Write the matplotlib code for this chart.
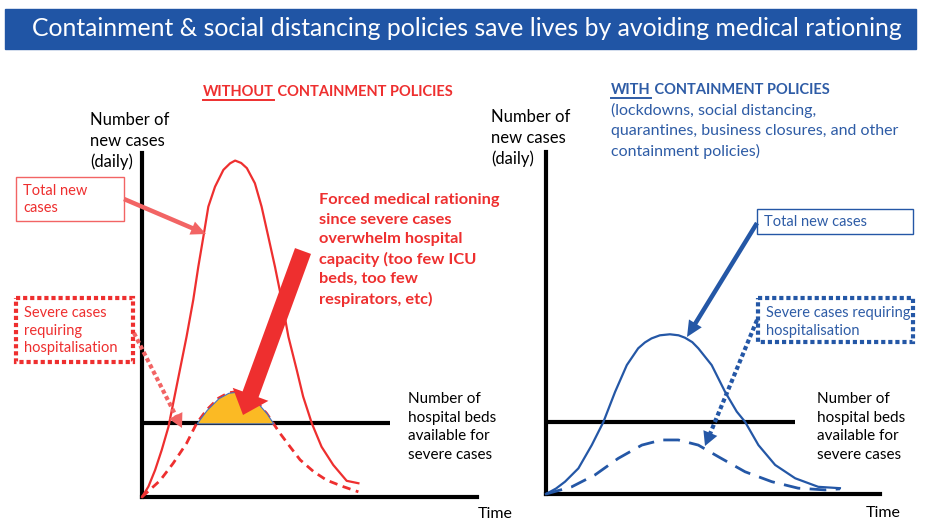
import matplotlib
matplotlib.use('Agg')
import matplotlib.pyplot as plt
from matplotlib.patches import Rectangle, FancyArrow
import numpy as np

plt.rcParams['font.family'] = ['Lato', 'DejaVu Sans']

# --- data (time / daily cases in arbitrary units, axis length = 100) ---
t_left_total = [0, 1.9, 3.9, 5.9, 7.9, 9.3, 11.3, 13.3, 15.3, 16.8, 18.5, 19.8, 21.8, 24.3,
                26.3, 27.8, 29.6, 31.3, 33.7, 35.7, 37.7, 39.7, 41.7, 43.7, 46.2, 48.1,
                50.7, 53.6, 57.1, 61.1, 64.6]
v_left_total = [0, 3.0, 7.8, 13.7, 20.4, 27.2, 36.9, 46.6, 57.3, 66.9, 76.7, 84.4, 90.2, 95.1,
                97.0, 97.8, 97.1, 95.6, 91.2, 84.4, 75.7, 66.9, 57.3, 46.6, 36.9, 29.2,
                21.4, 14.6, 9.3, 4.7, 4.0]
t_left_severe = [0, 5.4, 9.3, 13.3, 16.3, 19.3, 22.8, 25.8, 28.3, 31.3, 34.2, 37.2, 39.2,
                 41.2, 44.2, 47.2, 51.2, 55.1, 60.1, 64.6]
v_left_severe = [0, 4.8, 9.8, 15.6, 21.4, 25.3, 28.7, 30.3, 30.6, 29.9, 27.7, 24.3, 21.4,
                 18.5, 14.6, 10.8, 7.4, 4.9, 3.0, 1.5]
beds_left = 21.4
beds_left_end = 74.0

t_right_total = [0, 3.0, 5.7, 9.7, 13.7, 17.2, 20.7, 24.2, 27.6, 29.6, 31.6, 34.1, 37.1, 39.7,
                 41.6, 43.8, 45.6, 49.6, 53.6, 57.1, 59.6, 63.6, 68.6, 74.6, 81.5, 88.0]
v_right_total = [0, 1.6, 3.6, 7.5, 14.3, 21.1, 29.9, 37.7, 42.6, 44.3, 45.5, 46.4, 46.7, 46.4,
                 45.7, 44.4, 42.6, 37.7, 29.9, 24.1, 21.1, 14.3, 8.5, 4.6, 2.1, 1.7]
t_right_severe = [0, 7.7, 14.7, 21.6, 28.7, 34.6, 39.6, 45.6, 51.6, 59.6, 67.6, 75.5, 83.5, 88.0]
v_right_severe = [0, 2.1, 5.6, 10.4, 14.3, 15.8, 15.8, 14.3, 10.9, 6.5, 3.6, 1.7, 1.2, 1.5]
beds_right = 21.1
beds_right_end = 74.6

RED = '#EE2F2F'
RED_LIGHT = '#F26464'
BLUE = '#2457A6'
BLUE_TXT = '#2E5CA6'
BANNER = '#2055A5'
ORANGE = '#FBBA24'

fig = plt.figure(figsize=(9.28, 5.21), dpi=100)
W, H = 928, 521


def panel(x0, y0, x1, y1, t_tot, v_tot, t_sev, v_sev, beds, beds_end, color, dash):
    # x0,y0 = origin in pixels, x1 = end of time axis, y1 = top of case axis
    ax = fig.add_axes([x0 / W, 1 - y0 / H, (x1 - x0) / W, (y0 - y1) / H])
    ax.set_xlim(0, 100)
    ax.set_ylim(0, 100)
    for s in ['top', 'right']:
        ax.spines[s].set_visible(False)
    for s in ['left', 'bottom']:
        ax.spines[s].set_linewidth(3)
        ax.spines[s].set_capstyle('projecting')
    ax.set_xticks([])
    ax.set_yticks([])
    ax.patch.set_alpha(0)
    ax.hlines(beds, 0, beds_end, color='black', lw=3, zorder=2)
    ax.plot(t_tot, v_tot, color=color, lw=1.6, clip_on=False, zorder=3,
            solid_joinstyle='round')
    ax.plot(t_sev, v_sev, color=color, lw=2, ls=dash, clip_on=False, zorder=3)
    return ax


axL = panel(142, 497, 477, 153, t_left_total, v_left_total, t_left_severe, v_left_severe,
            beds_left, beds_left_end, RED, (0, (3, 2)))
# overflow of severe cases above the hospital capacity
axL.fill_between(t_left_severe, v_left_severe, beds_left,
                 where=np.array(v_left_severe) >= beds_left, interpolate=True,
                 facecolor=ORANGE, edgecolor='#4472C4', lw=0.8, zorder=4)

axR = panel(546, 494, 880, 152, t_right_total, v_right_total, t_right_severe, v_right_severe,
            beds_right, beds_right_end, BLUE, (0, (6, 3.4)))

# overlay in pixel coordinates for annotations
ax0 = fig.add_axes([0, 0, 1, 1])
ax0.set_xlim(0, W)
ax0.set_ylim(H, 0)
ax0.axis('off')
ax0.set_zorder(5)

ax0.add_patch(Rectangle((5, 9), 911, 40, color=BANNER))
ax0.text(467, 29, 'Containment & social distancing policies save lives by avoiding medical rationing',
         color='white', fontsize=17.8, ha='center', va='center')


def head(tip, start, length, width, color):
    d = np.array(tip, float) - np.array(start, float)
    d = d / np.hypot(*d) * length
    ax0.add_patch(FancyArrow(tip[0] - d[0], tip[1] - d[1], d[0], d[1], width=0.01,
                             head_width=width, head_length=length,
                             length_includes_head=True, color=color, lw=0))


def solid_arrow(start, tip, lw, hl, hw, color):
    d = np.array(tip, float) - np.array(start, float)
    ax0.add_patch(FancyArrow(start[0], start[1], d[0], d[1], width=lw, head_width=hw,
                             head_length=hl, length_includes_head=True, color=color, lw=0))


def dotted_arrow(start, tip, color):
    d = np.array(tip, float) - np.array(start, float)
    end = np.array(tip) - d / np.hypot(*d) * 12
    ax0.plot([start[0], end[0]], [start[1], end[1]], color=color, lw=3,
             ls=(0, (1, 0.7)))
    head(tip, start, 14, 15, color)


def underlined(x, y, first, rest, color):
    t1 = ax0.text(x, y, first, color=color, fontsize=10.5, fontweight='bold', va='center')
    ax0.annotate(rest, xy=(1, 0), xycoords=t1, va='bottom', color=color,
                 fontsize=10.5, fontweight='bold')
    return t1


# ---- left panel texts ----
tw = underlined(203, 92, 'WITHOUT', ' CONTAINMENT POLICIES', RED)
ax0.text(90, 141, 'Number of\nnew cases\n(daily)', fontsize=12, va='center', linespacing=1.32)

ax0.add_patch(Rectangle((16, 177), 108, 44, fill=False, ec=RED_LIGHT, lw=1))
ax0.text(23, 199.5, 'Total new\ncases', color=RED, fontsize=10.5, va='center', linespacing=1.3)
solid_arrow((124, 199), (206, 234), 4.5, 15, 14, RED_LIGHT)

ax0.add_patch(Rectangle((16, 298), 117, 64, fill=False, ec=RED, lw=3, ls=(0, (1, 0.7))))
ax0.text(24, 330.5, 'Severe cases\nrequiring\nhospitalisation', color=RED, fontsize=10.5,
         va='center', linespacing=1.36)
dotted_arrow((134, 333), (182, 428), RED_LIGHT)

ax0.text(319, 250, 'Forced medical rationing\nsince severe cases\noverwhelm hospital\n'
         'capacity (too few ICU\nbeds, too few\nrespirators, etc)',
         color=RED, fontsize=11.8, fontweight='bold', va='center', linespacing=1.48)
solid_arrow((303, 251), (243, 415), 17, 22, 38, RED)

ax0.text(408, 427, 'Number of\nhospital beds\navailable for\nsevere cases', fontsize=11,
         va='center', linespacing=1.43)
ax0.text(478, 514, 'Time', fontsize=11.5, va='center')

# ---- right panel texts ----
underlined(611, 90, 'WITH', ' CONTAINMENT POLICIES', BLUE_TXT)
ax0.text(611, 131, '(lockdowns, social distancing,\nquarantines, business closures, and other\n'
         'containment policies)', color=BLUE_TXT, fontsize=11.5, va='center', linespacing=1.52)
ax0.text(491, 138, 'Number of\nnew cases\n(daily)', fontsize=12, va='center', linespacing=1.32)

ax0.add_patch(Rectangle((757, 209), 156, 25, fill=False, ec=BLUE, lw=1))
ax0.text(764, 222, 'Total new cases', color=BLUE_TXT, fontsize=10.5, va='center')
solid_arrow((757, 223), (687, 337), 4.5, 16, 15, BLUE)

ax0.add_patch(Rectangle((758, 298), 155, 44, fill=False, ec=BLUE, lw=3, ls=(0, (1, 0.7))))
ax0.text(766, 322, 'Severe cases requiring\nhospitalisation', color=BLUE_TXT, fontsize=10.5,
         va='center', linespacing=1.3)
dotted_arrow((757, 320), (705, 446), BLUE)

ax0.text(817, 427, 'Number of\nhospital beds\navailable for\nsevere cases', fontsize=11,
         va='center', linespacing=1.43)
ax0.text(866, 513, 'Time', fontsize=11.5, va='center')

# underline the WITHOUT / WITH words
fig.canvas.draw()
inv = ax0.transData.inverted()
for t in [tw] + [a for a in ax0.texts if a.get_text() == 'WITH']:
    bb = t.get_window_extent()
    (xa, ya), (xb, yb) = inv.transform([[bb.x0, bb.y0], [bb.x1, bb.y1]])
    ax0.plot([xa, xb], [ya + 0.5, ya + 0.5], color=t.get_color(), lw=1.4)

fig.savefig('out.png', dpi=100)
